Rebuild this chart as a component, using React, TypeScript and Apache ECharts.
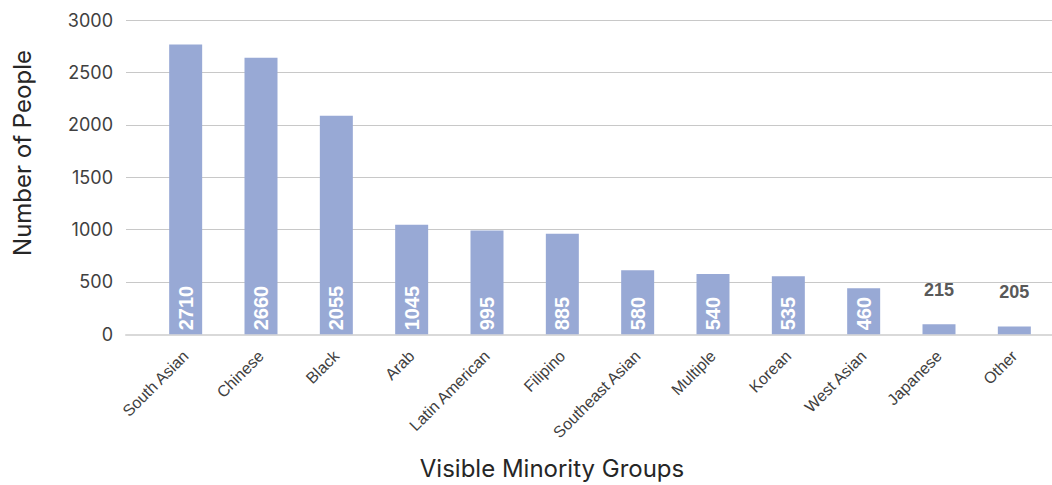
import React, { useEffect, useRef } from "react";
import * as echarts from "echarts";

const categories = [
  "South Asian", "Chinese", "Black", "Arab", "Latin American", "Filipino",
  "Southeast Asian", "Multiple", "Korean", "West Asian", "Japanese", "Other",
];
const barValues = [2765, 2640, 2085, 1045, 990, 960, 612, 575, 555, 440, 95, 75];
const labelValues = [2710, 2660, 2055, 1045, 995, 885, 580, 540, 535, 460, 215, 205];
const outsideLabel = [false, false, false, false, false, false, false, false, false, false, true, true];
const yTicks = { min: 0, max: 3000, interval: 500 };

export default function App() {
  const ref = useRef<HTMLDivElement>(null);
  useEffect(() => {
    if (!ref.current) return;
    const chart = echarts.init(ref.current, null, { renderer: "svg" });
    const data = barValues.map((v, i) => {
      const item: any = { value: v };
      if (outsideLabel[i]) {
        item.label = {
          position: "top",
          rotate: 0,
          align: "center",
          verticalAlign: "bottom",
          distance: 25,
          color: "#595959",
          fontSize: 18,
        };
      }
      return item;
    });
    chart.setOption({
      animation: false,
      backgroundColor: "#ffffff",
      grid: [
        { left: 126, right: 0, top: 20, bottom: 150.7 },
        { left: 148, right: -4, top: 20, bottom: 150.7 },
      ],
      xAxis: [
        {
          gridIndex: 0,
          type: "category",
          data: [""],
          axisLine: { show: true, lineStyle: { color: "#d9d9d9", width: 2 } },
          axisTick: { show: false },
          axisLabel: { show: false },
        },
        {
          gridIndex: 1,
          type: "category",
          data: categories,
          axisLine: { show: false },
          axisTick: { show: false },
          axisLabel: {
            rotate: 45,
            margin: 19,
            fontSize: 16,
            color: "#404040",
            fontFamily: "Liberation Sans, Arial, sans-serif",
            interval: 0,
          },
        },
      ],
      yAxis: [
        {
          gridIndex: 0,
          type: "value",
          min: yTicks.min,
          max: yTicks.max,
          interval: yTicks.interval,
          axisLine: { show: false },
          axisTick: { show: false },
          axisLabel: {
            margin: 13,
            fontSize: 18,
            color: "#404040",
            fontFamily: "Inter, sans-serif",
            formatter: (v: number) => String(v),
          },
          splitLine: { lineStyle: { color: "#c8c8c8", width: 1 } },
        },
        {
          gridIndex: 1,
          type: "value",
          min: yTicks.min,
          max: yTicks.max,
          interval: yTicks.interval,
          show: false,
          splitLine: { show: false },
        },
      ],
      series: [
        {
          type: "bar",
          xAxisIndex: 1,
          yAxisIndex: 1,
          data,
          barWidth: 33,
          itemStyle: { color: "#98a9d5" },
          label: {
            show: true,
            position: "insideBottom",
            rotate: 90,
            align: "left",
            verticalAlign: "middle",
            distance: 4,
            color: "#ffffff",
            fontWeight: "bold",
            fontSize: 20,
            fontFamily: "Liberation Sans, Arial, sans-serif",
            formatter: (p: any) => String(labelValues[p.dataIndex]),
          },
        },
      ],
      graphic: [
        {
          type: "text",
          x: 552,
          y: 468,
          style: {
            text: "Visible Minority Groups",
            fill: "#262626",
            font: "24px Inter, sans-serif",
            align: "center",
            verticalAlign: "middle",
          },
        },
        {
          type: "text",
          x: 22,
          y: 153,
          rotation: Math.PI / 2,
          style: {
            text: "Number of People",
            fill: "#262626",
            font: "24px Inter, sans-serif",
            align: "center",
            verticalAlign: "middle",
          },
        },
      ],
    });
    return () => chart.dispose();
  }, []);
  return (
    <div
      ref={ref}
      style={{ position: "absolute", left: 0, top: 0, width: 1052, height: 485 }}
    />
  );
}
